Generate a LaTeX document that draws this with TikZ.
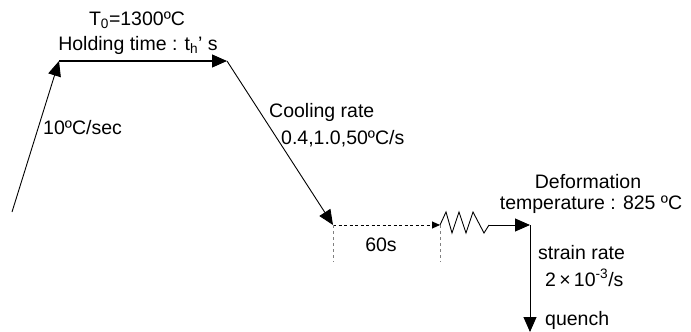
\documentclass[tikz,border=0pt]{standalone}
\usepackage{fontspec}
\setmainfont{Liberation Sans}
\usetikzlibrary{arrows.meta}
\begin{document}
\begin{tikzpicture}[x=1pt,y=-1pt,
  lbl/.style={inner sep=0pt,font=\fontsize{19.5}{24}\selectfont},
  big/.style={-{Triangle[length=15pt,width=13pt]}},
  main/.style={line width=0.9pt,black},
  dsh/.style={line width=0.9pt,dash pattern=on 3pt off 2.5pt},
  gdsh/.style={line width=0.9pt,gray,dash pattern=on 3pt off 3pt}]
\useasboundingbox (0,0) rectangle (691,332);
% key points
\coordinate (s) at (12,212);
\coordinate (a) at (59,61);
\coordinate (b) at (227,61);
\coordinate (c) at (333,225);
\coordinate (d) at (440,225);
\coordinate (z) at (489,225);
\coordinate (e) at (530,225);
\coordinate (q) at (530,332);
\coordinate (c2) at (333,262);
\coordinate (d2) at (440,262);
% connectors
\draw[main,big] (s) -- (a);
\draw[main,line width=1.1pt,big] (a) -- (b);
\draw[main,big] (b) -- (c);
\draw[dsh,-{Triangle[length=8pt,width=7pt]}] (c) -- (d);
\draw[gdsh] (c) -- (c2);
\draw[gdsh] (d) -- (d2);
\draw[main] (d) -- (446,212) -- (452,233) -- (459,212) -- (466,233) -- (473,212) -- (484,233) -- (z);
\draw[main,big] (z) -- (e);
\draw[main,big] (e) -- (q);
% labels
\node[lbl] (t0) at (137,20) {T\textsubscript{0}=1300ºC};
\node[lbl] (ht) at (138,45) {Holding time : t\textsubscript{h}’ s};
\node[lbl,anchor=west] (r1) at (43,128) {10ºC/sec};
\node[lbl,anchor=west] (cr) at (269,112) {Cooling rate};
\node[lbl,anchor=west] (cv) at (281,139) {0.4,1.0,50ºC/s};
\node[lbl] (t60) at (381,245) {60s};
\node[lbl] (df) at (588,182) {Deformation};
\node[lbl] (dt) at (591,205) {temperature : 825 ºC};
\node[lbl,anchor=west] (sr) at (538,253) {strain rate};
\node[lbl,anchor=west] (sv) at (545,278) {2\,×\,10\textsuperscript{-3}/s};
\node[lbl,anchor=west] (qu) at (545,320) {quench};
\end{tikzpicture}
\end{document}
